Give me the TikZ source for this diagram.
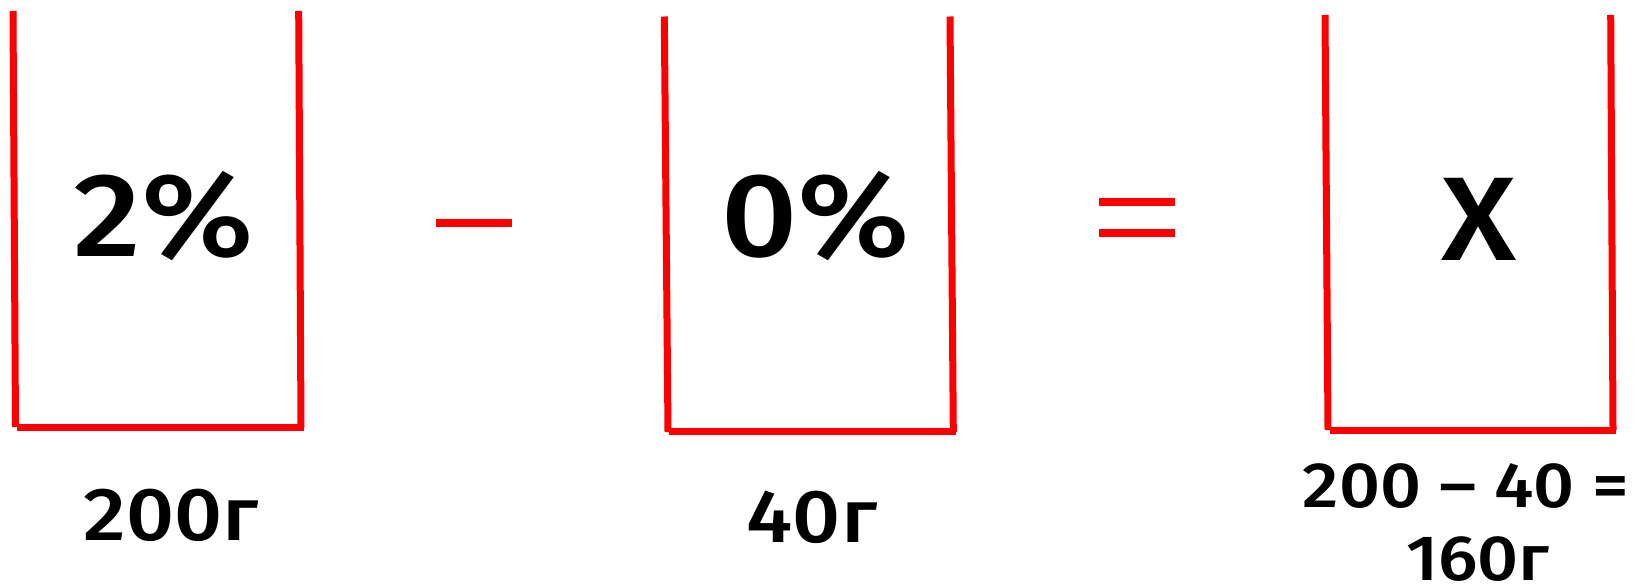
\documentclass[tikz,border=0pt]{standalone}
\usepackage{fontspec}
\setmainfont{Fira Sans}[UprightFont={* Medium}, FakeStretch=1.12]
\begin{document}
\begin{tikzpicture}[x=1pt,y=-1pt,
  wall/.style={draw=red, line width=7pt, line cap=butt},
  sign/.style={draw=red, line width=8pt, line cap=butt},
  big/.style={inner sep=0pt, anchor=base, font=\fontsize{119}{119}\selectfont},
  mid/.style={inner sep=0pt, anchor=base, font=\fontsize{75}{75}\selectfont},
  small/.style={inner sep=0pt, anchor=base, font=\fontsize{64}{64}\selectfont}]
\useasboundingbox (0,0) rectangle (1645,584);
% cup 1
\coordinate (a1) at (13,11); \coordinate (a2) at (15.5,427);
\coordinate (a3) at (298.7,11); \coordinate (a4) at (301,427);
\coordinate (a5) at (17,427); \coordinate (a6) at (304,427);
\draw[wall] (a1) -- (a2); \draw[wall] (a3) -- (a4); \draw[wall] (a5) -- (a6);
% cup 2
\coordinate (b1) at (664.3,16.5); \coordinate (b2) at (668,432);
\coordinate (b3) at (950,16.5); \coordinate (b4) at (953.3,432);
\coordinate (b5) at (669,431.5); \coordinate (b6) at (956,431.5);
\draw[wall] (b1) -- (b2); \draw[wall] (b3) -- (b4); \draw[wall] (b5) -- (b6);
% cup 3
\coordinate (c1) at (1325,15); \coordinate (c2) at (1328,430);
\coordinate (c3) at (1610.7,15); \coordinate (c4) at (1613,430);
\coordinate (c5) at (1330,430.5); \coordinate (c6) at (1616,430.5);
\draw[wall] (c1) -- (c2); \draw[wall] (c3) -- (c4); \draw[wall] (c5) -- (c6);
% signs
\coordinate (m1) at (436,222.5); \coordinate (m2) at (512,222.5);
\draw[sign] (m1) -- (m2);
\coordinate (e1) at (1099,202); \coordinate (e2) at (1175,202);
\coordinate (e3) at (1099,233); \coordinate (e4) at (1175,233);
\draw[sign] (e1) -- (e2); \draw[sign] (e3) -- (e4);
% texts
\node[big] (t1) at (163.5,256) {2\%};
\node[big] (t2) at (816,256.5) {0\%};
\node[big] (t3) at (1479,260) {X};
\node[mid] (l1) at (171,540) {200г};
\node[mid] (l2) at (812,542) {40г};
\node[small] (l3) at (1466,507) {200 – 40 =};
\node[small] (l4) at (1478,580) {160г};
\end{tikzpicture}
\end{document}
